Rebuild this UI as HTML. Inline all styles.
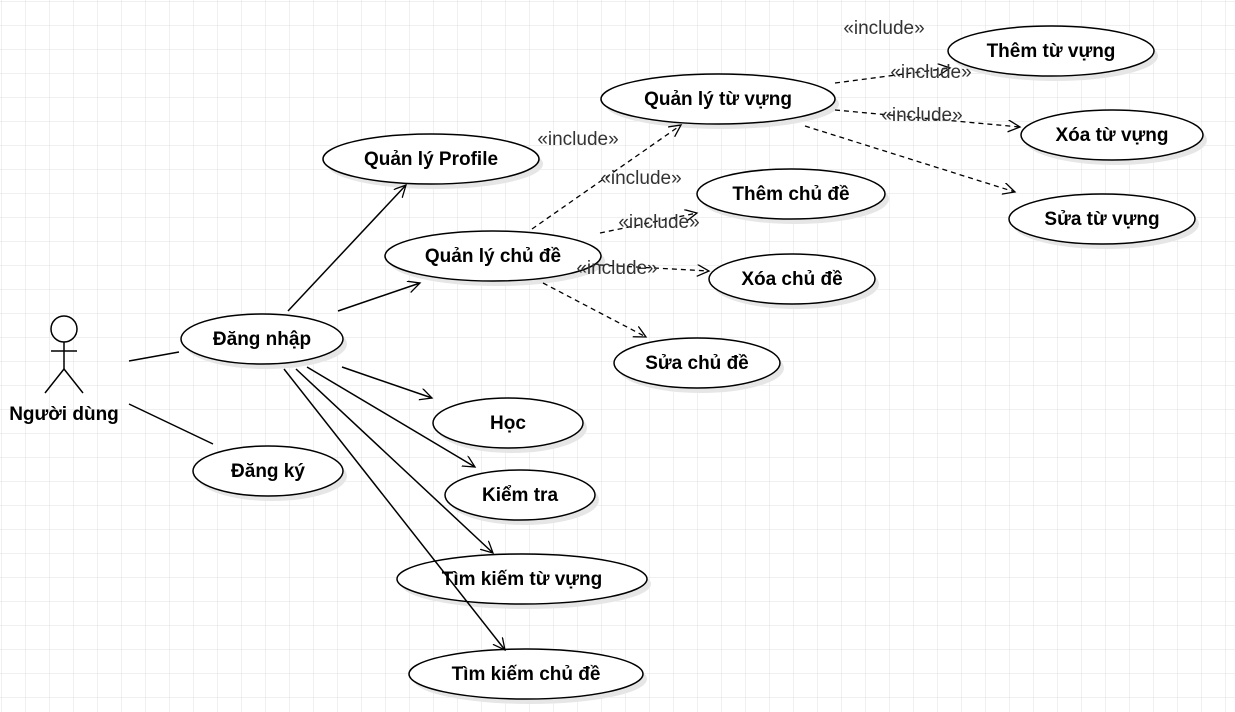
<!DOCTYPE html>
<html><head><meta charset="utf-8"><style>
html,body{margin:0;padding:0;background:#fff}
svg{display:block}
.u{font-family:"Liberation Sans",sans-serif;font-size:19px;font-weight:bold;fill:#000}
.i{font-family:"Liberation Sans",sans-serif;font-size:19px;fill:#333}
</style></head><body>
<svg width="1235" height="712" xmlns="http://www.w3.org/2000/svg">
<defs>
<pattern id="g" width="24" height="24" patternUnits="userSpaceOnUse" x="1" y="1">
<path d="M24 0H0V24" fill="none" stroke="#e2e2e2" stroke-width="1"/>
</pattern>
<marker id="a" markerWidth="14" markerHeight="14" refX="12" refY="6" orient="auto" markerUnits="userSpaceOnUse">
<path d="M0,0 L12,6 L0,12" fill="none" stroke="#000" stroke-width="1.3"/>
</marker>
</defs>
<rect width="1235" height="712" fill="url(#g)"/>
<g fill="#e6e6e6">
<ellipse cx="722" cy="104" rx="117" ry="25"/>
<ellipse cx="1055" cy="56" rx="103" ry="25"/>
<ellipse cx="1116" cy="140" rx="91" ry="25"/>
<ellipse cx="1106" cy="224" rx="93" ry="25"/>
<ellipse cx="435" cy="164" rx="108" ry="25"/>
<ellipse cx="795" cy="199" rx="94" ry="25"/>
<ellipse cx="497" cy="261" rx="108" ry="25"/>
<ellipse cx="796" cy="284" rx="83" ry="25"/>
<ellipse cx="701" cy="368" rx="83" ry="25"/>
<ellipse cx="266" cy="344" rx="81" ry="25"/>
<ellipse cx="512" cy="428" rx="75" ry="25"/>
<ellipse cx="272" cy="476" rx="75" ry="25"/>
<ellipse cx="524" cy="500" rx="75" ry="25"/>
<ellipse cx="526" cy="584" rx="125" ry="25"/>
<ellipse cx="530" cy="679" rx="117" ry="25"/>
</g>
<g fill="#fff" stroke="#000" stroke-width="1.5">
<ellipse cx="718" cy="99" rx="117" ry="25"/>
<ellipse cx="1051" cy="51" rx="103" ry="25"/>
<ellipse cx="1112" cy="135" rx="91" ry="25"/>
<ellipse cx="1102" cy="219" rx="93" ry="25"/>
<ellipse cx="431" cy="159" rx="108" ry="25"/>
<ellipse cx="791" cy="194" rx="94" ry="25"/>
<ellipse cx="493" cy="256" rx="108" ry="25"/>
<ellipse cx="792" cy="279" rx="83" ry="25"/>
<ellipse cx="697" cy="363" rx="83" ry="25"/>
<ellipse cx="262" cy="339" rx="81" ry="25"/>
<ellipse cx="508" cy="423" rx="75" ry="25"/>
<ellipse cx="268" cy="471" rx="75" ry="25"/>
<ellipse cx="520" cy="495" rx="75" ry="25"/>
<ellipse cx="522" cy="579" rx="125" ry="25"/>
<ellipse cx="526" cy="674" rx="117" ry="25"/>
</g>
<g stroke="#000" stroke-width="1.5" fill="none">
<line x1="129" y1="361" x2="179" y2="352"/>
<line x1="129" y1="404" x2="213" y2="444"/>
<line x1="288" y1="311" x2="406" y2="185" marker-end="url(#a)"/>
<line x1="338" y1="311" x2="420" y2="283" marker-end="url(#a)"/>
<line x1="342" y1="367" x2="432" y2="398" marker-end="url(#a)"/>
<line x1="307" y1="367" x2="475" y2="467" marker-end="url(#a)"/>
<line x1="296" y1="369" x2="493" y2="553" marker-end="url(#a)"/>
<line x1="284" y1="369" x2="505" y2="650" marker-end="url(#a)"/>
</g>
<g stroke="#000" stroke-width="1.3" fill="none" stroke-dasharray="5,4">
<line x1="532" y1="229" x2="681" y2="125" marker-end="url(#a)"/>
<line x1="600" y1="233" x2="697" y2="213" marker-end="url(#a)"/>
<line x1="600" y1="265" x2="709" y2="271" marker-end="url(#a)"/>
<line x1="543" y1="283" x2="646" y2="337" marker-end="url(#a)"/>
<line x1="835" y1="83" x2="950" y2="68" marker-end="url(#a)"/>
<line x1="835" y1="110" x2="1020" y2="127" marker-end="url(#a)"/>
<line x1="805" y1="126" x2="1015" y2="192" marker-end="url(#a)"/>
</g>
<g stroke="#000" stroke-width="1.5" fill="none">
<circle cx="64" cy="329" r="13" fill="#fff"/>
<line x1="64" y1="342" x2="64" y2="369"/>
<line x1="51" y1="351" x2="77" y2="351"/>
<path d="M45,393 L64,369 L83,393"/>
</g>
<g class="u" text-anchor="middle">
<text x="64" y="420">Người dùng</text>
<text x="718" y="105">Quản lý từ vựng</text>
<text x="1051" y="57">Thêm từ vựng</text>
<text x="1112" y="141">Xóa từ vựng</text>
<text x="1102" y="225">Sửa từ vựng</text>
<text x="431" y="165">Quản lý Profile</text>
<text x="791" y="200">Thêm chủ đề</text>
<text x="493" y="262">Quản lý chủ đề</text>
<text x="792" y="285">Xóa chủ đề</text>
<text x="697" y="369">Sửa chủ đề</text>
<text x="262" y="345">Đăng nhập</text>
<text x="508" y="429">Học</text>
<text x="268" y="477">Đăng ký</text>
<text x="520" y="501">Kiểm tra</text>
<text x="522" y="585">Tìm kiếm từ vựng</text>
<text x="526" y="680">Tìm kiếm chủ đề</text>
</g>
<g class="i" text-anchor="middle">
<text x="884" y="34">«include»</text>
<text x="931" y="78">«include»</text>
<text x="922" y="121">«include»</text>
<text x="578" y="145">«include»</text>
<text x="641" y="184">«include»</text>
<text x="659" y="228">«include»</text>
<text x="617" y="274">«include»</text>
</g>
</svg>
</body></html>
